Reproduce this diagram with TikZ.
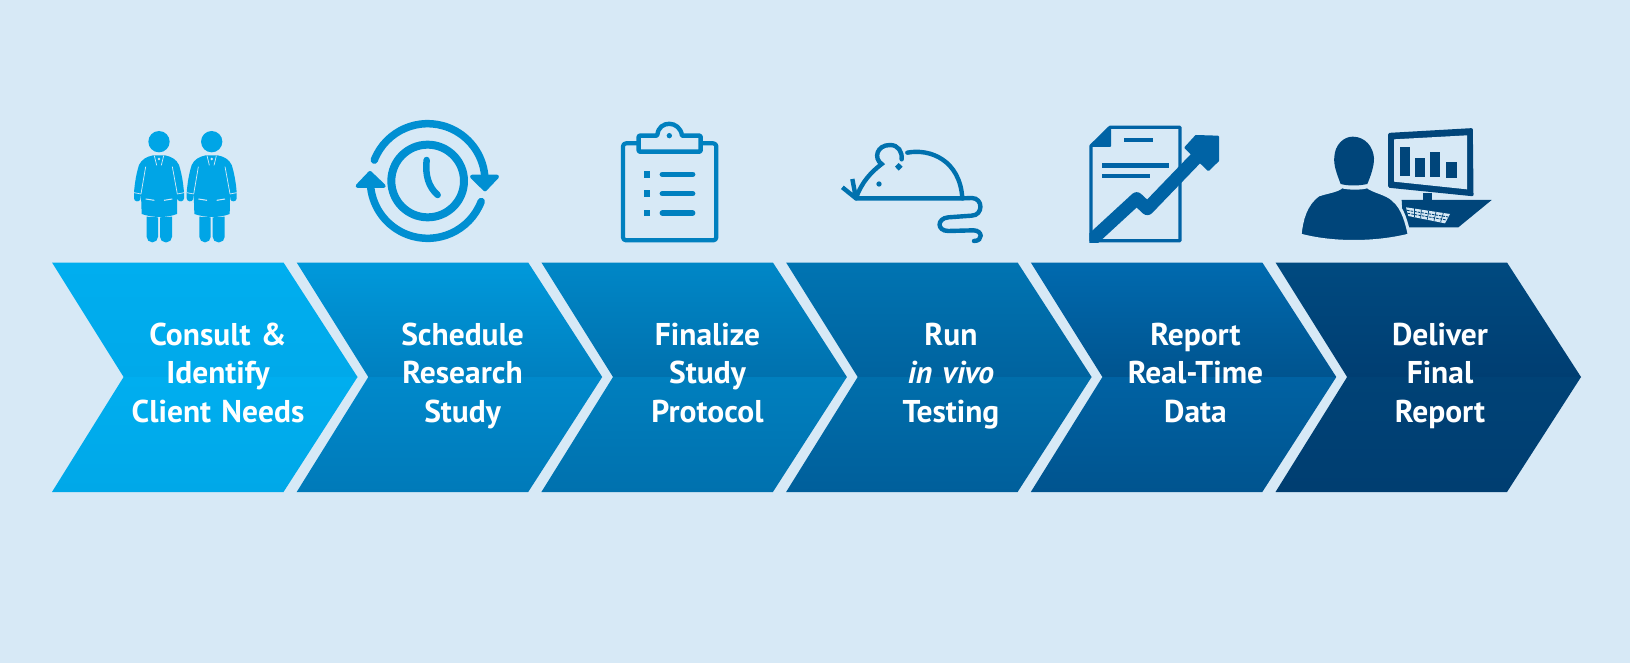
\documentclass[tikz,border=0pt]{standalone}
\usepackage{fontspec}
\setmainfont{PT Sans}[WordSpace=1.3]
\definecolor{pagebg}{HTML}{D7E9F6}
\definecolor{cyanicon}{HTML}{00A5E6}
\definecolor{clockicon}{HTML}{008FD2}
\definecolor{boardicon}{HTML}{0080BF}
\definecolor{mouseicon}{HTML}{0071AE}
\definecolor{reporticon}{HTML}{0063A5}
\definecolor{navyicon}{HTML}{00457A}
\definecolor{c1a}{HTML}{00AEEF}\definecolor{c1b}{HTML}{00A9EA}\definecolor{c1c}{HTML}{00AEEF}\definecolor{c1d}{HTML}{00A8E8}
\definecolor{c2a}{HTML}{0099DB}\definecolor{c2b}{HTML}{0080C0}\definecolor{c2c}{HTML}{0089CB}\definecolor{c2d}{HTML}{007AB9}
\definecolor{c3a}{HTML}{0087C7}\definecolor{c3b}{HTML}{0071AE}\definecolor{c3c}{HTML}{007FBE}\definecolor{c3d}{HTML}{0071AE}
\definecolor{c4a}{HTML}{0074B2}\definecolor{c4b}{HTML}{00639F}\definecolor{c4c}{HTML}{006EAB}\definecolor{c4d}{HTML}{005F9B}
\definecolor{c5a}{HTML}{006AAF}\definecolor{c5b}{HTML}{00548F}\definecolor{c5c}{HTML}{0062A3}\definecolor{c5d}{HTML}{00548F}
\definecolor{c6a}{HTML}{004A80}\definecolor{c6b}{HTML}{003E72}\definecolor{c6c}{HTML}{004276}\definecolor{c6d}{HTML}{003E71}
\tikzset{
  chevlabel/.style={text=white,align=center,inner sep=0pt,anchor=center,
    font=\fontsize{31.5}{38.5}\selectfont\bfseries},
  ico/.style={line cap=round,line join=round},
}
% #1 left x, #2..#5 colours: upper top/bottom, lower top/bottom
\newcommand{\chevronshape}[5]{%
  \path[top color=#2,bottom color=#3] (#1,262.5) -- ++(231.5,0) -- ++(74,114.5) -- ++(-233.9,0) -- ++(-71.6,-114.5) -- cycle;
  \path[top color=#4,bottom color=#5] (#1,492) -- ++(231.5,0) -- ++(74,-115) -- ++(-233.9,0) -- ++(-71.6,115) -- cycle;
}
\newcommand{\threelines}[3]{\rule{0pt}{28pt}#1\\#2\\#3\rule[-10pt]{0pt}{10pt}}
\newcommand{\personfigure}{%
  \fill[cyanicon] (102,65) circle[radius=32];
  \fill[cyanicon] (84,106) .. controls (65,110) and (50,118) .. (42,135)
     .. controls (34,160) and (29,190) .. (27,218) -- (27,235)
     .. controls (27,246) and (44,247) .. (46,238) -- (48,222) -- (50,282)
     .. controls (85,294) and (125,294) .. (156,282) -- (157,222) -- (158,238)
     .. controls (160,247) and (177,246) .. (177,235) -- (177,218)
     .. controls (175,190) and (170,160) .. (162,135)
     .. controls (154,118) and (140,110) .. (120,106) -- cycle;
  \fill[cyanicon] (65,290) [rounded corners=5.5pt] -- (65,367) -- (99,367) [sharp corners] -- (99,292) -- cycle;
  \fill[cyanicon] (105,292) [rounded corners=5.5pt] -- (105,367) -- (141,367) [sharp corners] -- (141,290) -- cycle;
  \draw[pagebg,line width=.7pt] (88,107) -- (95,136) (116,107) -- (109,136);
  \draw[pagebg,line width=.7pt] (62,140) -- (48,222) (142,140) -- (157,222);
  \draw[pagebg,line width=.7pt] (27,218) -- (48,222) (157,222) -- (177,218);
  \draw[pagebg,line width=1pt] (62,237) -- (88,241) (117,241) -- (142,237);
  \fill[pagebg] (102,117) circle[radius=4];
}
\begin{document}
\begin{tikzpicture}[x=1pt,y=-1pt]
\useasboundingbox (0,0) rectangle (1630,663);
\fill[pagebg] (0,0) rectangle (1630,663);

% chevrons
\chevronshape{52}{c1a}{c1b}{c1c}{c1d}
\chevronshape{296.7}{c2a}{c2b}{c2c}{c2d}
\chevronshape{541.4}{c3a}{c3b}{c3c}{c3d}
\chevronshape{786.1}{c4a}{c4b}{c4c}{c4d}
\chevronshape{1030.8}{c5a}{c5b}{c5c}{c5d}
\chevronshape{1275.5}{c6a}{c6b}{c6c}{c6d}

% labels
\node[chevlabel] (l1) at (218,374.5) {\threelines{Consult \&}{Identify}{Client Needs}};
\node[chevlabel] (l2) at (462.6,374.5) {\threelines{Schedule}{Research}{Study}};
\node[chevlabel] (l3) at (707.5,374.5) {\threelines{Finalize}{Study}{Protocol}};
\node[chevlabel] (l4) at (951,374.5) {\threelines{Run}{\itshape in vivo}{Testing}};
\node[chevlabel] (l5) at (1195.5,374.5) {\threelines{Report}{Real-Time}{Data}};
\node[chevlabel] (l6) at (1440,374.5) {\threelines{Deliver}{Final}{Report}};

% people
\begin{scope}[shift={(125,120)},scale=1/3]
  \personfigure
\end{scope}
\begin{scope}[shift={(177.7,120)},scale=1/3]
  \personfigure
\end{scope}

% clock
\begin{scope}[shift={(100,100)},scale=1/3,ico]
  \draw[clockicon,line width=8pt] (983,243) circle[radius=109];
  \draw[clockicon,line width=6.5pt] (980,180) .. controls (975,225) and (985,260) .. (1013,285);
  \draw[clockicon,line width=7.5pt] (983,243) ++(-158.6:172) arc[start angle=-158.6,end angle=-6,radius=172];
  \draw[clockicon,line width=7.5pt] (983,243) ++(21:172) arc[start angle=21,end angle=173.7,radius=172];
  \filldraw[clockicon,line width=4pt] (1116,230) -- (1191,230) -- (1155,268) -- cycle;
  \filldraw[clockicon,line width=4pt] (773,258) -- (851,258) -- (810,219) -- cycle;
\end{scope}

% clipboard
\begin{scope}[shift={(580,100)},scale=1/3,ico]
  \draw[boardicon,line width=4.2pt,rounded corners=3pt] (129,130) rectangle (409,421);
  \filldraw[boardicon,fill=pagebg,line width=4.4pt,rounded corners=1pt] (176,107) -- (232,107) [sharp corners] .. controls (236,60) and (300,60) .. (306,107) [rounded corners=1pt] -- (362,107) -- (362,155) -- (176,155) -- cycle;
  \fill[boardicon] (268,107) circle[radius=8];
  \foreach \yy in {223,281,339}{
    \fill[boardicon] (192,\yy-10) rectangle (210,\yy+10);
    \draw[boardicon,line width=5.5pt] (247,\yy) -- (338,\yy);
  }
\end{scope}

% mouse
\begin{scope}[shift={(830,130)},scale=1/3]
  \draw[mouseicon,line width=4.4pt,line join=round] (37,172) -- (78,205) -- (67,147);
  \draw[mouseicon,line width=4.4pt,line cap=round] (78,205) .. controls (95,155) and (125,125) .. (155,102)
     .. controls (130,85) and (140,45) .. (180,45) .. controls (205,45) and (217,65) .. (215,88);
  \draw[mouseicon,line width=4.4pt,line cap=round] (232,68) .. controls (300,55) and (390,90) .. (397,205);
  \draw[mouseicon,line width=4.4pt,line cap=round] (78,205) -- (400,205) -- (425,204)
     .. controls (460,204) and (460,256) .. (425,257) -- (355,262)
     .. controls (320,265) and (320,303) .. (355,303) -- (430,301)
     .. controls (458,301) and (460,333) .. (432,333);
  \fill[mouseicon] (147,162) circle[radius=8];
  \fill[mouseicon] (206,99) -- (218,110) -- (206,122) -- (195,110) -- cycle;
\end{scope}

% report
\begin{scope}[shift={(1030,100)},scale=1/3]
  \draw[reporticon,line width=3.3pt,line join=round] (240,82) -- (450,82) -- (450,422) -- (183,422) -- (183,138) -- cycle;
  \filldraw[reporticon,line width=2pt,line join=round] (240,82) -- (240,138) -- (183,138) -- cycle;
  \draw[reporticon,line width=4pt] (282,120) -- (368,120);
  \draw[reporticon,line width=5pt] (216,196) -- (416,196);
  \draw[reporticon,line width=4pt] (216,228) -- (360,228);
  \begin{scope}
    \clip (178,60) rectangle (600,428);
    \draw[reporticon,line width=13pt,line join=round,line cap=butt] (170,434) -- (320,296) -- (352,326) -- (510,162);
  \end{scope}
  \filldraw[reporticon,line width=2pt,line join=round] (466,143) -- (498,108) -- (564,110) -- (564,182) -- (535,210) -- cycle;
\end{scope}

% analyst at monitor
\begin{scope}[shift={(1290,120)},scale=1/3]
  \fill[navyicon] (335,240) -- (605,240) -- (505,322) -- (340,322) -- cycle;
  \fill[navyicon] (398,220) rectangle (425,242);
  \filldraw[navyicon,line width=3pt,line join=round,fill=navyicon] (299,43) -- (544,29) -- (546,224) -- (299,199) -- cycle;
  \fill[pagebg] (312,58) -- (531,46) -- (531,208) -- (312,185) -- cycle;
  \fill[navyicon] (331,80) rectangle (360,168);
  \fill[navyicon] (374,115) rectangle (404,170);
  \fill[navyicon] (420,97) rectangle (451,172);
  \fill[navyicon] (468,127) rectangle (502,174);
  \fill[pagebg] (348,262) -- (480,282) -- (465,310) -- (355,288) -- cycle;
  \draw[navyicon,line width=.9pt,dash pattern=on 2.6pt off 1pt] (351,271) -- (475,291);
  \draw[navyicon,line width=.9pt,dash pattern=on 2.6pt off 1pt] (353,280) -- (470,300);
  \foreach \dx in {0,1,2,3,4}{
    \draw[navyicon,line width=.7pt] (372+\dx*22,265+\dx*3.4) -- (372+\dx*20,292+\dx*3.4);
  }
  \filldraw[navyicon,draw=pagebg,line width=3pt] (30,345) .. controls (35,300) and (45,255) .. (85,225)
     .. controls (115,215) and (145,212) .. (155,200) .. controls (175,206) and (215,206) .. (232,200)
     .. controls (250,215) and (290,220) .. (310,240) .. controls (340,265) and (350,310) .. (358,345)
     .. controls (260,370) and (130,372) .. (30,345) -- cycle;
  \fill[navyicon] (152,192) .. controls (140,160) and (130,135) .. (133,110)
     .. controls (135,75) and (160,50) .. (188,50) .. controls (225,50) and (250,80) .. (252,115)
     .. controls (252,140) and (243,165) .. (232,192) .. controls (205,198) and (175,198) .. (152,192) -- cycle;
\end{scope}
\end{tikzpicture}
\end{document}
